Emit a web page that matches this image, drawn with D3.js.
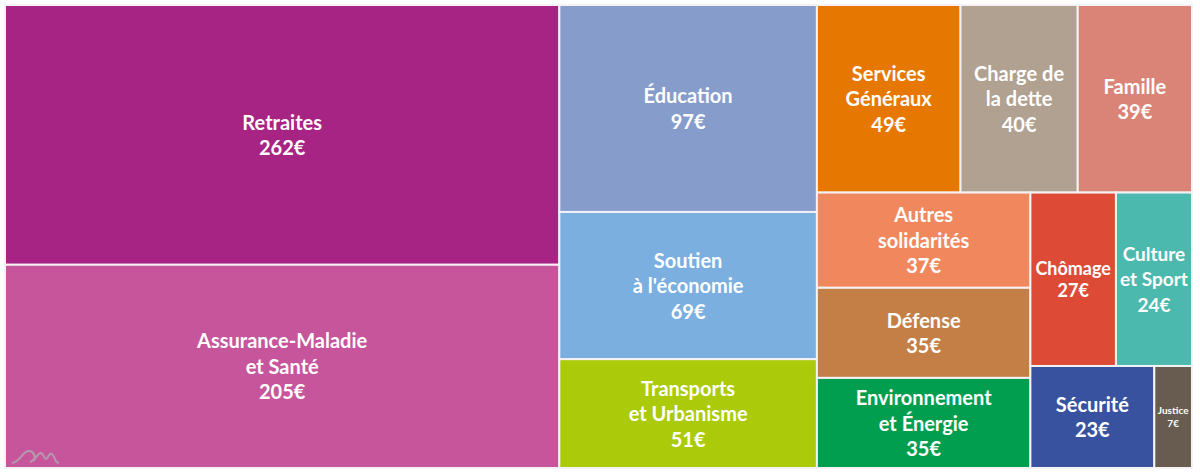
<!DOCTYPE html>
<html>
<head>
<meta charset="utf-8">
<script src="https://cdnjs.cloudflare.com/ajax/libs/d3/7.8.5/d3.min.js"></script>
<style>
html, body { margin: 0; padding: 0; background: #fff; }
svg { display: block; }
text { font-family: Lato, "Open Sans", sans-serif; font-weight: 700; fill: #fff; text-anchor: middle; }
</style>
</head>
<body>
<svg id="chart" width="1200" height="475"></svg>
<script>
// one entry per budget item, same order everywhere
var names = ['Retraites', 'Assurance-Maladie et Santé', 'Éducation', 'Soutien à l\'économie', 'Transports et Urbanisme',
	'Services Généraux', 'Charge de la dette', 'Famille', 'Autres solidarités', 'Défense', 'Environnement et Énergie',
	'Chômage', 'Culture et Sport', 'Sécurité', 'Justice'];
var labelLines = [['Retraites'], ['Assurance-Maladie', 'et Santé'], ['Éducation'], ['Soutien', 'à l\'économie'], ['Transports', 'et Urbanisme'],
	['Services', 'Généraux'], ['Charge de', 'la dette'], ['Famille'], ['Autres', 'solidarités'], ['Défense'], ['Environnement', 'et Énergie'],
	['Chômage'], ['Culture', 'et Sport'], ['Sécurité'], ['Justice']];
var values = [262, 205, 97, 69, 51, 49, 40, 39, 37, 35, 35, 27, 24, 23, 7];
var colors = ['#a72384', '#c7559b', '#869dcb', '#7aafe0', '#aaca0a', '#e67700', '#b0a191', '#da8478', '#f1885d', '#c47f47', '#029e50',
	'#dd4b36', '#4cb9ae', '#38529f', '#675c4f'];

// nesting of the blocks (indexes into the arrays above)
var blocks = [[0, 1], [2, 3, 4], [[5, 6, 7], [[8, 9, 10], [[11, 12], [13, 14]]]]];

var margin = {top: 5, right: 8, bottom: 7, left: 5},
	width = 1200 - margin.left - margin.right,
	height = 475 - margin.top - margin.bottom;

function toNode(b) {
	if (Array.isArray(b)) return {children: b.map(toNode)};
	return {idx: b, value: values[b]};
}

var root = d3.hierarchy(toNode(blocks)).sum(function(d) { return d.value || 0; });

// slice/dice flips at each depth, which is exactly how the picture is cut
d3.treemap()
	.tile(d3.treemapSliceDice)
	.size([width, height])
	.round(false)(root);

var svg = d3.select('#chart');
var g = svg.append('g').attr('transform', 'translate(' + margin.left + ',' + margin.top + ')');

var cell = g.selectAll('.cell')
	.data(root.leaves())
	.enter().append('g')
	.attr('class', 'cell');

cell.append('rect')
	.attr('x', function(d) { return d.x0; })
	.attr('y', function(d) { return d.y0; })
	.attr('width', function(d) { return d.x1 - d.x0; })
	.attr('height', function(d) { return d.y1 - d.y0; })
	.attr('fill', function(d) { return colors[d.data.idx]; })
	.attr('stroke', '#f4f2f4')
	.attr('stroke-width', 2);

function fontSize(d) {
	if (d.data.idx === 14) return 10;
	if (d.data.idx === 11) return 18;
	if (d.data.idx === 12) return 19;
	return 20;
}

function lineHeight(d) {
	if (d.data.idx === 14) return 13;
	if (d.data.idx === 11) return 22;
	return 25.5;
}

cell.each(function(d) {
	var lines = labelLines[d.data.idx].concat([d.data.value + '€']);
	var fs = fontSize(d);
	var lh = lineHeight(d);
	var cx = (d.x0 + d.x1) / 2, cy = (d.y0 + d.y1) / 2;
	var t = d3.select(this).append('text').attr('font-size', fs);
	lines.forEach(function(l, i) {
		t.append('tspan')
			.attr('x', cx)
			.attr('y', cy + (i - (lines.length - 1) / 2) * lh + fs * 0.38)
			.text(l);
	});
});

// little logo, bottom left corner
svg.append('path')
	.attr('d', 'M12,463 C20,462 22,452 28,451 C34,450 36,458 34,461 M30,462 C36,460 38,452 41,453 C44,454 44,459 46,459 C48,459 49,452 52,454 C55,456 54,462 59,463')
	.attr('fill', 'none')
	.attr('stroke', '#b59aae')
	.attr('stroke-width', 2);
</script>
</body>
</html>
